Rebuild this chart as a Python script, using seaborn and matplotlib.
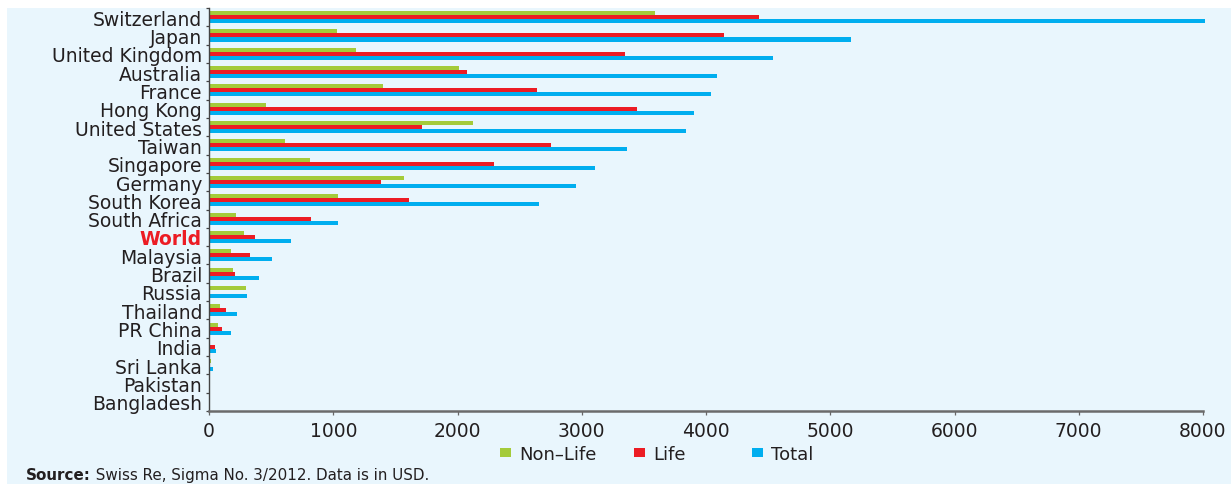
import numpy as np
import pandas as pd
import matplotlib
matplotlib.use("Agg")
import matplotlib.pyplot as plt
from matplotlib.patches import Rectangle, Patch
import seaborn as sns

# Insurance premiums per capita, 2011 (USD)
countries = ["Switzerland", "Japan", "United Kingdom", "Australia", "France",
             "Hong Kong", "United States", "Taiwan", "Singapore", "Germany",
             "South Korea", "South Africa", "World", "Malaysia", "Brazil",
             "Russia", "Thailand", "PR China", "India", "Sri Lanka",
             "Pakistan", "Bangladesh"]
non_life = [3592, 1028, 1187, 2014, 1403, 459, 2128, 608, 815, 1571, 1040,
            220, 283, 176, 192, 296, 91, 72, 10, 18, 6, 2]
life = [4425, 4143, 3350, 2077, 2637, 3443, 1714, 2755, 2293, 1384, 1613,
        818, 374, 330, 211, 6, 135, 104, 45, 12, 3, 2]
total = [8017, 5171, 4537, 4091, 4040, 3902, 3842, 3363, 3108, 2955, 2653,
         1038, 657, 506, 403, 302, 226, 176, 55, 30, 9, 4]
series_names = ["Non\u2013Life", "Life", "Total"]
x_ticks = [0, 1000, 2000, 3000, 4000, 5000, 6000, 7000, 8000]

colors = ["#A4CB3A", "#EC1C24", "#00AEEF"]
bg = "#E9F6FD"
text_col = "#231F20"
label_size = 13.5

df = pd.DataFrame({
    "country": countries * 3,
    "series": np.repeat(series_names, len(countries)),
    "value": non_life + life + total,
})

sns.set_theme(style="white")
plt.rcParams["font.family"] = ["DejaVu Sans"]
plt.rcParams["text.color"] = text_col

W, H = 1231, 485
fig = plt.figure(figsize=(W / 100, H / 100), dpi=100)
fig.patch.set_facecolor("white")
fig.patches.append(Rectangle((7 / W, 0), 1, 1 - 9 / H, transform=fig.transFigure,
                             facecolor=bg, edgecolor="none", zorder=-10))

ax = fig.add_axes([209 / W, 1 - 412 / H, (1203 - 209) / W, (412 - 9) / H])
ax.set_facecolor("none")

sns.barplot(data=df, x="value", y="country", hue="series", order=countries,
            hue_order=series_names, palette=colors, orient="h", width=0.66,
            saturation=1, errorbar=None, linewidth=0, legend=False, ax=ax)
for p in ax.patches:
    p.set_clip_on(False)

ax.set_xlim(0, 8000)
ax.set_xticks(x_ticks)
ax.set_xticklabels([str(v) for v in x_ticks])
ax.set_xlabel("")
ax.set_ylabel("")

n = len(countries)
ax.set_yticks(np.arange(-0.5, n, 1), minor=True)
ax.tick_params(axis="y", which="major", length=0, pad=5, labelsize=label_size,
               labelcolor=text_col)
ax.tick_params(axis="y", which="minor", length=2.5, width=0.9, color="#444444",
               direction="out", left=True)
ax.tick_params(axis="x", which="major", length=3, width=0.9, color="#666666",
               direction="out", bottom=True, pad=4, labelsize=label_size,
               labelcolor=text_col)

for lbl in ax.get_yticklabels():
    if lbl.get_text() == "World":
        lbl.set_color("#EC1C24")
        lbl.set_fontweight("bold")

for side in ("top", "right"):
    ax.spines[side].set_visible(False)
ax.spines["left"].set_color("#444444")
ax.spines["left"].set_linewidth(1.0)
ax.spines["bottom"].set_color("#6B6B6B")
ax.spines["bottom"].set_linewidth(1.8)

# One legend entry per series, spaced along the bottom like the original layout
legend_x = [500, 634, 752]
for name, c, lx in zip(series_names, colors, legend_x):
    fig.legend([Patch(facecolor=c, edgecolor="none")], [name], loc="center left",
               bbox_to_anchor=(lx / W, 1 - 455 / H), frameon=False,
               fontsize=13, handlelength=0.62, handleheight=0.45,
               handletextpad=0.45, borderpad=0, borderaxespad=0)

src = fig.text(26 / W, 1 - 476 / H, "Source:", fontsize=10.9, fontweight="bold",
               va="center", ha="left", color=text_col)
ax.annotate(" Swiss Re, Sigma No. 3/2012. Data is in USD.", xy=(1, 0.5),
            xycoords=src, va="center", ha="left", fontsize=10.9, color=text_col,
            annotation_clip=False)

fig.savefig("out.png", dpi=100)
